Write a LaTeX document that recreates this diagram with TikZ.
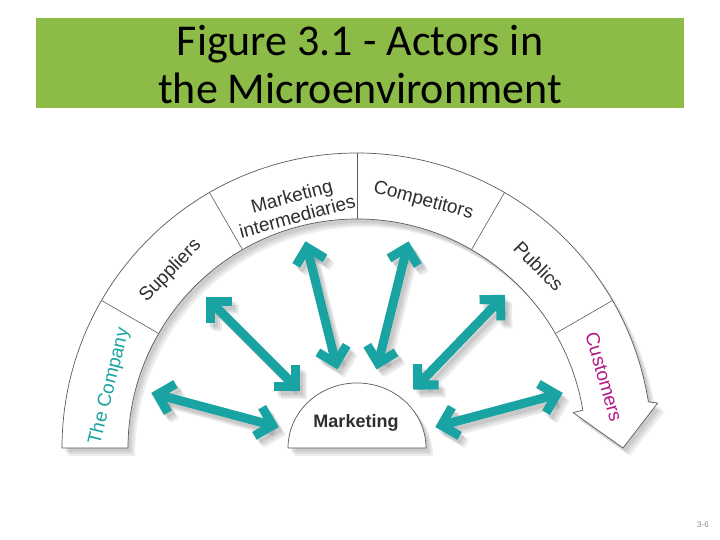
\documentclass[tikz,border=0pt]{standalone}
\usepackage{fontspec}
\setmainfont{Liberation Sans}
\newfontfamily\titlefont{Carlito}
\usepackage{tikz}
\usetikzlibrary{arrows.meta}
\definecolor{ActorGreen}{HTML}{8DBB47}
\definecolor{ActorTeal}{HTML}{1AA3A3}
\definecolor{ActorMagenta}{HTML}{B3188A}
\definecolor{ActorText}{HTML}{2E2E2E}
\definecolor{ActorLine}{HTML}{5A5A5A}
\definecolor{ActorGray}{HTML}{8A8A8A}
\tikzset{
  titletext/.style={font=\titlefont\fontsize{44}{48}\selectfont,text=black,inner sep=0pt,anchor=base},
  actorlabel/.style={font=\fontsize{19}{21}\selectfont,text=ActorText,inner sep=0pt,align=center},
  mktlabel/.style={font=\bfseries\fontsize{18}{20}\selectfont,text=ActorText,inner sep=0pt},
  softshade/.style={fill=black,opacity=.07,transform canvas={shift={(#1)}}},
  bandfill/.style={fill=white,draw=ActorLine,line width=0.7pt,line join=round,
    preaction={softshade={3pt,-4pt}},preaction={softshade={5pt,-6pt}},
    preaction={softshade={7pt,-8pt}}},
  divider/.style={draw=ActorLine,line width=0.6pt},
  twoway/.style={{Straight Barb[sharp,angle=90:21pt]}-{Straight Barb[sharp,angle=90:21pt]},
    line width=9pt,draw=ActorTeal},
  twowayshadow/.style={twoway,draw=black,opacity=.08},
  pagenum/.style={font=\fontsize{8}{9}\selectfont,text=ActorGray,inner sep=0pt}
}

\begin{document}
\begin{tikzpicture}[x=1pt,y=1pt]
  \useasboundingbox (0,0) rectangle (720,540);
  \fill[ActorGreen] (36,432) rectangle (684,522);
  \node[titletext] (title) at (360,484) {Figure 3.1 - Actors in};
  \node[titletext] (titlelow) at (360,436) {the Microenvironment};

  \coordinate (c) at (357,92);

  \path[bandfill] ([shift={(180:295)}]c) arc[start angle=180,end angle=9,radius=295]
    -- ([shift={(8.5:304)}]c) -- ([shift={(0:266)}]c) -- ([shift={(9.3:219)}]c)
    -- ([shift={(9.5:229)}]c) arc[start angle=9.5,end angle=180,radius=229] -- cycle;
  \foreach \a in {150,120,90,60,30}
    \draw[divider] ([shift={(\a:229)}]c) -- ([shift={(\a:295)}]c);

  \node[actorlabel,rotate=76,text=ActorTeal] (company) at ([shift={(166:255)}]c) {The Company};
  \node[actorlabel,rotate=46] (suppliers) at ([shift={(136.5:257)}]c) {Suppliers};
  \node[actorlabel,rotate=15] (intermed) at ([shift={(104.5:250)}]c) {Marketing\\intermediaries};
  \node[actorlabel,rotate=-15] (competitors) at ([shift={(75:256)}]c) {Competitors};
  \node[actorlabel,rotate=-45] (publics) at ([shift={(45:257)}]c) {Publics};
  \node[actorlabel,rotate=-74,text=ActorMagenta] (customers) at ([shift={(16:257)}]c) {Customers};

  \path[bandfill] ([shift={(180:69)}]c) arc[start angle=180,end angle=0,x radius=69,y radius=65] -- cycle;
  \node[mktlabel] (marketing) at ([shift={(-1,25)}]c) {Marketing};

  \foreach \a/\n in {165/company,135/suppliers,104/intermed,76/competitors,46/publics,15/customers} {
    \coordinate (far-\n) at ([shift={(\a:213)}]c);
    \coordinate (near-\n) at ([shift={(\a:81)}]c);
  }
  \foreach \n in {company,suppliers,intermed,competitors,publics,customers}
    \foreach \dx/\dy in {3/-4,5/-6,7/-8}
      \draw[twowayshadow] ([shift={(\dx,\dy)}]near-\n) -- ([shift={(\dx,\dy)}]far-\n);
  \foreach \n in {company,suppliers,intermed,competitors,publics,customers}
    \draw[twoway] (near-\n) -- (far-\n);

  \node[pagenum] (page) at (703,15) {3-6};
\end{tikzpicture}
\end{document}
